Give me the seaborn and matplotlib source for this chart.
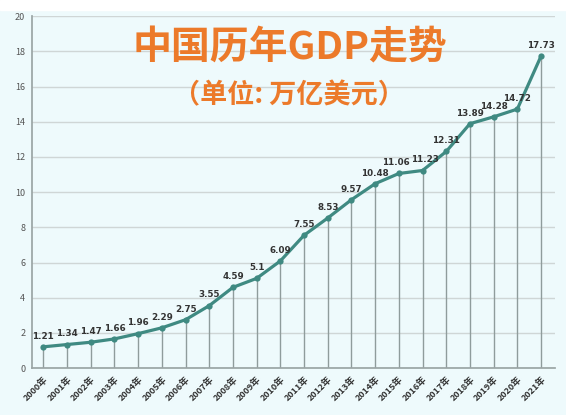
import matplotlib
matplotlib.use("Agg")
import matplotlib.pyplot as plt
import seaborn as sns
import pandas as pd
import numpy as np

years = [f"{y}年" for y in range(2000, 2022)]
gdp = [1.21, 1.34, 1.47, 1.66, 1.96, 2.29, 2.75, 3.55, 4.59, 5.1, 6.09,
       7.55, 8.53, 9.57, 10.48, 11.06, 11.23, 12.31, 13.89, 14.28, 14.72, 17.73]
labels = ["1.21", "1.34", "1.47", "1.66", "1.96", "2.29", "2.75", "3.55", "4.59", "5.1", "6.09",
          "7.55", "8.53", "9.57", "10.48", "11.06", "11.23", "12.31", "13.89", "14.28", "14.72", "17.73"]
title = "中国历年GDP走势"
subtitle = "（单位: 万亿美元）"

sns.set_theme(style="white")
plt.rcParams['font.family'] = ['Noto Sans CJK SC', 'DejaVu Sans']

bg = "#eefafc"
fig = plt.figure(figsize=(5.66, 4.15), dpi=100)
fig.patch.set_facecolor(bg)
ax = fig.add_axes([0.057, 0.113, 0.924, 0.848])
ax.set_facecolor(bg)

df = pd.DataFrame({"x": np.arange(len(years)), "gdp": gdp})
ax.vlines(df["x"], 0, df["gdp"], color="#8f9c9c", lw=1.0, zorder=1)
sns.lineplot(data=df, x="x", y="gdp", ax=ax, color="#3f8a82", lw=2.3,
             marker="o", markersize=4.5, markeredgewidth=0, zorder=3)

for xi, (v, t) in enumerate(zip(gdp, labels)):
    dx = -0.12 if t == "11.06" else (0.1 if t == "11.23" else 0)
    ax.text(xi + dx, v + 0.35, t, ha="center", va="bottom", fontsize=6.3,
            fontweight="bold", color="#333333", family=["DejaVu Sans"])

ax.set_xlim(-0.47, 21.6)
ax.set_ylim(0, 20)
ax.set_yticks(range(0, 21, 2))
ax.set_yticklabels([str(v) for v in range(0, 21, 2)], fontsize=6.5, color="#555555")
ax.set_xticks(range(len(years)))
ax.set_xticklabels(years, rotation=45, ha="right", rotation_mode="anchor",
                   fontsize=6.5, fontweight="bold", color="#333333")
ax.tick_params(axis="both", length=3, pad=2, color="#999999")
ax.yaxis.grid(True, color="#cfd6d6", lw=1.0)
ax.set_axisbelow(True)
for s in ["top", "right"]:
    ax.spines[s].set_visible(False)
ax.spines["left"].set_color("#9aa5a5")
ax.spines["bottom"].set_color("#9aa5a5")
ax.set_xlabel("")
ax.set_ylabel("")

fig.text(0.512, 0.885, title, ha="center", va="center", fontsize=28,
         fontweight="heavy", color="#ec7a2a")
fig.text(0.51, 0.77, subtitle, ha="center", va="center", fontsize=19.5,
         fontweight="heavy", color="#ec7a2a")

# top white strip
fig.patches.append(matplotlib.patches.Rectangle((0, 0.976), 1, 0.024,
                   transform=fig.transFigure, color="white", zorder=0))

fig.savefig("out.png", dpi=100, facecolor=bg)
